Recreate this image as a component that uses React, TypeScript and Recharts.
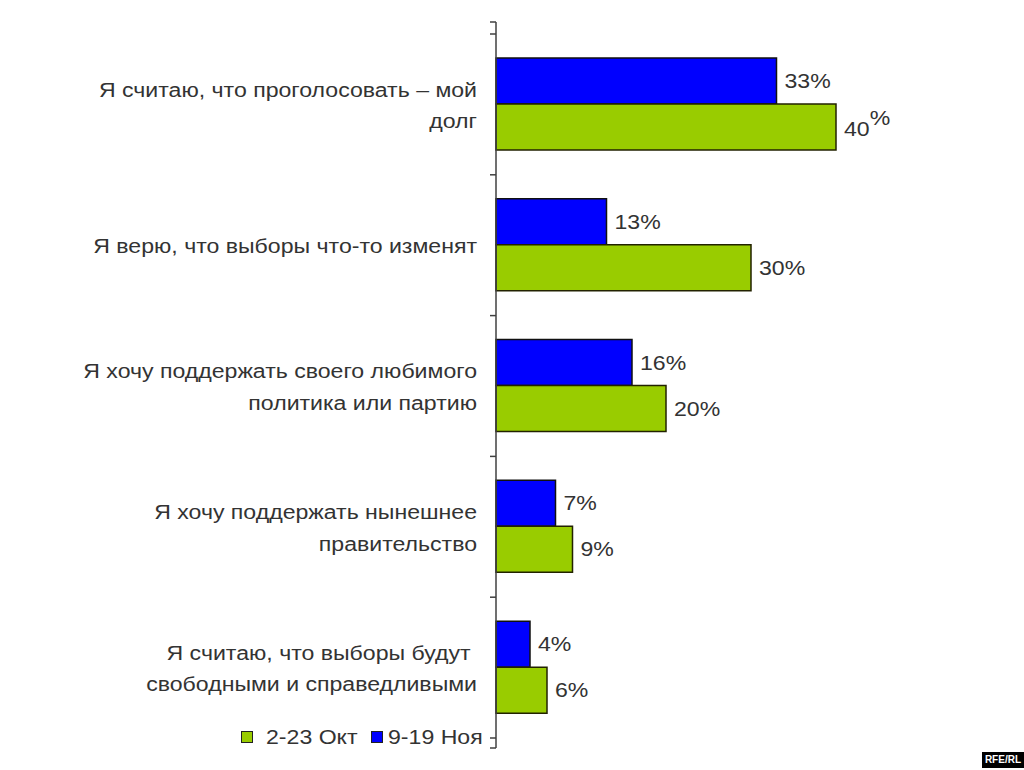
import React from "react";
import { BarChart, Bar, XAxis, YAxis, LabelList, Legend } from "recharts";

const categories = [
  "Я считаю, что проголосовать – мой\nдолг",
  "Я верю, что выборы что-то изменят",
  "Я хочу поддержать своего любимого\nполитика или партию",
  "Я хочу поддержать нынешнее\nправительство",
  "Я считаю, что выборы будут \nсвободными и справедливыми",
];
const novValues = [33, 13, 16, 7, 4];
const octValues = [40, 30, 20, 9, 6];
const novName = "9-19 Ноя";
const octName = "2-23 Окт";
const xDomain = [0, 60];

const data = categories.map((c, i) => ({ cat: c, nov: novValues[i], oct: octValues[i] }));

const W = 1024;
const H = 770;
const AXIS_X = 496;
const TOP = 22;
const BOTTOM = 22;
const PAD_TOP = 12;
const PAD_BOTTOM = 10;
const FONT = "'Liberation Sans', Arial, sans-serif";
const TEXT = "#333333";
const BLUE = "#0000FF";
const GREEN = "#99CC00";
const STRETCH = 1.1;

const CatTick = (props: any) => {
  const { x, y, payload, index } = props;
  const lines = String(payload.value).split("\n");
  const lh = 31.5;
  const startDy = -((lines.length - 1) * lh) / 2;
  const half = payload.offset || 70;
  const ax = AXIS_X;
  const marks: number[] = [y - half];
  if (index === 0) marks.push(y - half - PAD_TOP);
  if (index === categories.length - 1) marks.push(y + half, y + half + PAD_BOTTOM);
  return (
    <g>
      {marks.map((m, k) => (
        <line key={k} x1={ax - 6} x2={ax} y1={m} y2={m} stroke="#404040" strokeWidth={1.5} />
      ))}
      <text
        x={0}
        y={0}
        transform={`translate(${x},${y}) scale(${STRETCH},1)`}
        textAnchor="end"
        fill={TEXT}
        fontSize={21}
        fontFamily={FONT}
        style={{ whiteSpace: "pre" }}
      >
        {lines.map((l, i) => (
          <tspan key={i} x={0} dy={i === 0 ? startDy + 1 : lh} dominantBaseline="central">
            {l}
          </tspan>
        ))}
      </text>
    </g>
  );
};

const makeLabel = (raiseFirst: boolean) => (props: any) => {
  const { x, y, width, height, value, index } = props;
  const tx = x + width + 8;
  const ty = y + height / 2;
  if (raiseFirst && index === 0) {
    return (
      <text
        x={0}
        y={0}
        transform={`translate(${tx},${ty + 2}) scale(${STRETCH},1)`}
        fill={TEXT}
        fontSize={21}
        fontFamily={FONT}
        dominantBaseline="central"
      >
        {value}
        <tspan dy={-12}>%</tspan>
      </text>
    );
  }
  return (
    <text
      x={0}
      y={0}
      transform={`translate(${tx},${ty}) scale(${STRETCH},1)`}
      fill={TEXT}
      fontSize={21}
      fontFamily={FONT}
      dominantBaseline="central"
    >
      {value}%
    </text>
  );
};

const legendItems = [
  { name: octName, color: GREEN },
  { name: novName, color: BLUE },
];

const LegendContent = () => (
  <div style={{ display: "flex", alignItems: "center", fontFamily: FONT, fontSize: 21, color: TEXT, whiteSpace: "nowrap" }}>
    {legendItems.map((it, i) => (
      <div key={i} style={{ display: "flex", alignItems: "center", marginRight: i === 0 ? 22 : 0 }}>
        <span
          style={{
            display: "inline-block",
            width: 10,
            height: 10,
            background: it.color,
            border: "1px solid #222",
            marginRight: i === 0 ? 13 : 5,
          }}
        />
        <span style={{ display: "inline-block", transform: `scaleX(${STRETCH})`, transformOrigin: "left center" }}>
          {it.name}
        </span>
      </div>
    ))}
  </div>
);

export default function App() {
  return (
    <div style={{ position: "absolute", left: 0, top: 0, width: W, height: H, background: "#ffffff" }}>
      <BarChart
        width={W}
        height={H}
        data={data}
        layout="vertical"
        margin={{ top: TOP, right: 18, bottom: BOTTOM, left: 0 }}
        barCategoryGap="17%"
        barGap={0}
      >
        <XAxis type="number" domain={xDomain} hide />
        <YAxis
          type="category"
          dataKey="cat"
          width={AXIS_X}
          padding={{ top: PAD_TOP, bottom: PAD_BOTTOM }}
          axisLine={{ stroke: "#404040", strokeWidth: 1.5 }}
          tickLine={false}
          tickSize={6}
          tickMargin={13}
          tick={<CatTick />}
          interval={0}
        />
        <Legend
          verticalAlign="middle"
          align="center"
          layout="horizontal"
          wrapperStyle={{ left: 241, top: 725, width: 260 }}
          content={<LegendContent />}
        />
        <Bar dataKey="nov" name={novName} fill={BLUE} stroke="#101010" strokeWidth={1.5} isAnimationActive={false}>
          <LabelList dataKey="nov" content={makeLabel(false)} />
        </Bar>
        <Bar dataKey="oct" name={octName} fill={GREEN} stroke="#222200" strokeWidth={1.5} isAnimationActive={false}>
          <LabelList dataKey="oct" content={makeLabel(true)} />
        </Bar>
      </BarChart>
      <div
        style={{
          position: "absolute",
          right: 0,
          bottom: 2,
          background: "#000",
          color: "#fff",
          fontFamily: FONT,
          fontWeight: "bold",
          fontSize: 10,
          padding: "3px 3px",
          lineHeight: "10px",
        }}
      >
        RFE/RL
      </div>
    </div>
  );
}
